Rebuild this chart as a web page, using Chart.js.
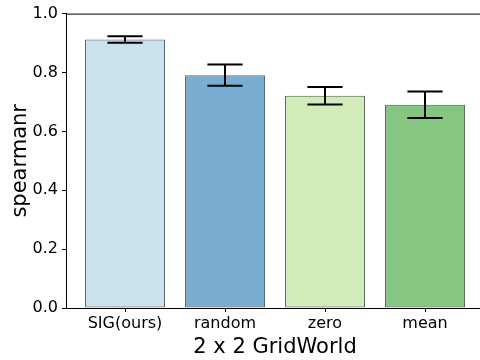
<!DOCTYPE html>
<html>
<head>
<meta charset="utf-8">
<script src="https://cdn.jsdelivr.net/npm/chart.js@4.4.1/dist/chart.umd.min.js"></script>
<style>
  html, body { margin: 0; padding: 0; background: #fff; overflow: hidden; }
  #wrap { width: 480px; height: 360px; overflow: hidden; }
  canvas { display: block; }
</style>
</head>
<body>
<div id="wrap"><canvas id="c" width="490" height="360"></canvas></div>
<script>
// Attribution methods compared on the 2 x 2 GridWorld task
const categories = ['SIG(ours)', 'random', 'zero', 'mean'];
const spearman = [0.912, 0.791, 0.721, 0.690];
const spearmanErr = [0.011, 0.036, 0.030, 0.045];
const yTicks = [0, 0.2, 0.4, 0.6, 0.8, 1.0];

const fillColors = [
  'rgba(166,206,227,0.6)',
  'rgba(31,120,180,0.6)',
  'rgba(178,223,138,0.6)',
  'rgba(51,160,44,0.6)'
];

const FONT = "'DejaVu Sans', sans-serif";

// Error bars with caps, positioned through the chart scales
const errorBars = {
  id: 'errorBars',
  afterDatasetsDraw(chart) {
    const { ctx, scales: { y } } = chart;
    const meta = chart.getDatasetMeta(0);
    ctx.save();
    ctx.strokeStyle = '#000';
    ctx.lineWidth = 2;
    meta.data.forEach((bar, i) => {
      const cap = bar.width * 0.22;
      const top = y.getPixelForValue(spearman[i] + spearmanErr[i]);
      const bot = y.getPixelForValue(spearman[i] - spearmanErr[i]);
      ctx.beginPath();
      ctx.moveTo(bar.x, top); ctx.lineTo(bar.x, bot);
      ctx.moveTo(bar.x - cap, top); ctx.lineTo(bar.x + cap, top);
      ctx.moveTo(bar.x - cap, bot); ctx.lineTo(bar.x + cap, bot);
      ctx.stroke();
    });
    ctx.restore();
  }
};

// Top and right frame lines
const frame = {
  id: 'frame',
  afterDraw(chart) {
    const { ctx, chartArea: a } = chart;
    ctx.save();
    ctx.strokeStyle = '#000';
    ctx.lineWidth = 1;
    ctx.beginPath();
    ctx.moveTo(a.left, a.top + 0.5);
    ctx.lineTo(a.right + 0.5, a.top + 0.5);
    ctx.lineTo(a.right + 0.5, a.bottom);
    ctx.stroke();
    ctx.restore();
  }
};

new Chart(document.getElementById('c'), {
  type: 'bar',
  data: {
    datasets: [{
      data: spearman.map((v, i) => ({ x: i, y: v })),
      backgroundColor: fillColors,
      borderColor: 'rgba(0,0,0,0.6)',
      borderWidth: 1,
      borderSkipped: false,
      categoryPercentage: 0.8,
      barPercentage: 1.0
    }]
  },
  options: {
    responsive: false,
    animation: false,
    layout: { padding: { top: 12, right: 6, left: 0, bottom: 0 } },
    plugins: { legend: { display: false }, tooltip: { enabled: false } },
    scales: {
      x: {
        type: 'linear',
        offset: false,
        min: -0.59,
        max: categories.length - 1 + 0.59,
        afterBuildTicks(scale) {
          scale.ticks = categories.map((_, i) => ({ value: i }));
        },
        afterFit(scale) { scale.height = 52; },
        ticks: {
          callback: (v) => categories[v],
          color: '#000',
          font: { family: FONT, size: 16 },
          padding: 2,
          maxRotation: 0
        },
        grid: { offset: false, drawOnChartArea: false, drawTicks: true, tickLength: 4, color: '#000' },
        border: { display: true, color: '#000', width: 1 },
        title: {
          display: true,
          text: '2 x 2 GridWorld',
          color: '#000',
          font: { family: FONT, size: 21 },
          padding: { top: 0, bottom: 0 }
        }
      },
      y: {
        min: 0,
        max: 1,
        afterBuildTicks(scale) {
          scale.ticks = yTicks.map(v => ({ value: v }));
        },
        afterFit(scale) { scale.width = 66; },
        ticks: {
          callback: (v) => v.toFixed(1),
          color: '#000',
          font: { family: FONT, size: 16 },
          padding: 4
        },
        grid: { drawOnChartArea: false, drawTicks: true, tickLength: 4, color: '#000' },
        border: { display: true, color: '#000', width: 1 },
        title: {
          display: true,
          text: 'spearmanr',
          color: '#000',
          font: { family: FONT, size: 21 },
          padding: { top: 8, bottom: 2 }
        }
      }
    }
  },
  plugins: [errorBars, frame]
});
</script>
</body>
</html>
